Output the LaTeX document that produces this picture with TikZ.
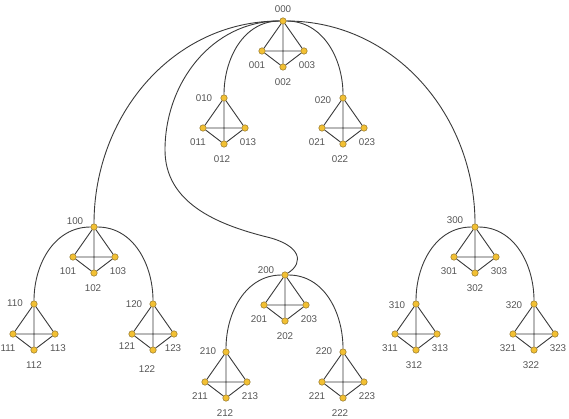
\documentclass[tikz,border=0pt]{standalone}
\usepackage{fontspec}
\setmainfont{Liberation Sans}
\usetikzlibrary{backgrounds}
\definecolor{dotfill}{HTML}{F2C033}
\definecolor{dotline}{HTML}{7A6020}
\definecolor{edgecol}{HTML}{3A3A3A}
\definecolor{labcol}{HTML}{555555}
\tikzset{
  vdot/.style={circle,fill=dotfill,draw=dotline,line width=0.4pt,inner sep=0pt,minimum size=6.5pt},
  lbl/.style={text=labcol,font=\fontsize{9.8}{11}\selectfont,inner sep=0pt},
  conn/.style={draw=edgecol,line width=0.9pt}
}
\newcommand\cluster[6]{%
  \node[vdot] (v#10) at (#2,#3) {};
  \node[vdot] (v#11) at (#2-21,#3-30) {};
  \node[vdot] (v#13) at (#2+21,#3-30) {};
  \node[vdot] (v#12) at (#2,#3-46) {};
  \node[lbl] (l#10) at (#2+#4,#3+#5) {#10};
  \node[lbl] (l#11) at (#2-26,#3-44) {#11};
  \node[lbl] (l#13) at (#2+24,#3-44) {#13};
  \node[lbl] (l#12) at (#2+#6,#3-61) {#12};
  \begin{scope}[on background layer]
    \draw[conn] (v#10) -- (v#11) -- (v#12) -- (v#13) -- (v#10) -- (v#12) (v#11) -- (v#13);
  \end{scope}}
\begin{document}
\begin{tikzpicture}[x=1pt,y=1pt]
\useasboundingbox (0,0) rectangle (569,418);
\cluster{00}{283}{397}{0}{12}{0}
\cluster{01}{224}{320}{-20}{0}{-2}
\cluster{02}{343}{320}{-20}{-2}{-3}
\cluster{10}{94}{191}{-19}{6}{-1}
\cluster{11}{34}{114}{-19}{1}{0}
\node[vdot] (v120) at (153,114) {};
\node[vdot] (v121) at (132,84) {};
\node[vdot] (v123) at (174,84) {};
\node[vdot] (v122) at (153,68) {};
\node[lbl] (l120) at (134,114) {120};
\node[lbl] (l121) at (127,72) {121};
\node[lbl] (l123) at (173,70) {123};
\node[lbl] (l122) at (147,49) {122};
\begin{scope}[on background layer]
  \draw[conn] (v120) -- (v121) -- (v122) -- (v123) -- (v120) -- (v122) (v121) -- (v123);
\end{scope}
\cluster{20}{285}{143}{-19}{5}{0}
\cluster{21}{226}{66}{-18}{1}{-1}
\cluster{22}{343}{66}{-19}{1}{-3}
\cluster{30}{475}{191}{-20}{7}{0}
\cluster{31}{416}{114}{-19}{-1}{-2}
\cluster{32}{534}{114}{-20}{-1}{-3}
\coordinate (c1) at (165,268);
\coordinate (c2) at (267,181);
\begin{scope}[on background layer]
  \draw[conn] (v000) to[out=180,in=90] (v010);
  \draw[conn] (v000) to[out=0,in=90] (v020);
  \draw[conn] (v000) to[out=180,in=90] (v100);
  \draw[conn] (v000) to[out=0,in=90] (v300);
  \draw[conn] (v000) to[out=180,in=90] (c1) to[out=-90,in=166] (c2) .. controls (300,173) and (305,156) .. (v200);
  \draw[conn] (v100) to[out=180,in=90] (v110);
  \draw[conn] (v100) to[out=0,in=90] (v120);
  \draw[conn] (v200) to[out=180,in=90] (v210);
  \draw[conn] (v200) to[out=0,in=90] (v220);
  \draw[conn] (v300) to[out=180,in=90] (v310);
  \draw[conn] (v300) to[out=0,in=90] (v320);
\end{scope}
\end{tikzpicture}
\end{document}
